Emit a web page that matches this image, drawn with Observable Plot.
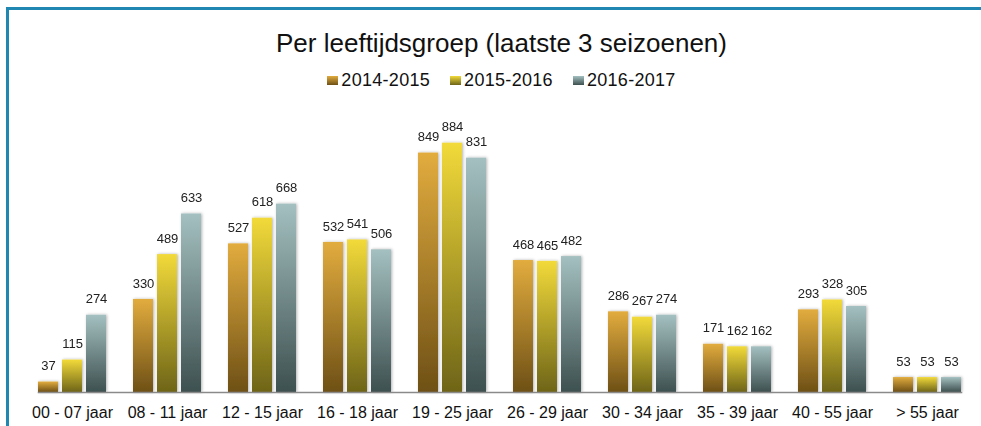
<!DOCTYPE html>
<html>
<head>
<meta charset="utf-8">
<script src="https://cdn.jsdelivr.net/npm/d3@7"></script>
<script src="https://cdn.jsdelivr.net/npm/@observablehq/plot@0.6"></script>
<style>
html, body { margin: 0; padding: 0; background: #fff; width: 981px; height: 426px; overflow: hidden;
  font-family: "Liberation Sans", Arial, Helvetica, sans-serif; }
#frame { position: absolute; left: 6px; top: 7px; width: 1100px; height: 600px;
  border-top: 3px solid #1f87b1; border-left: 3px solid #1f87b1; pointer-events: none; z-index: 5; }
#head { position: relative; height: 92px; }
#title { position: absolute; left: 22px; right: 0; top: 28px; line-height: 30px; font-size: 26px;
  text-align: center; color: #111; white-space: nowrap; }
#legend { position: absolute; left: 22px; right: 0; top: 69px; line-height: 22px; font-size: 18px;
  letter-spacing: 0.3px; display: flex; justify-content: center; color: #111; }
#legend .item { display: flex; align-items: center; margin: 0 10px; }
#legend .sw { width: 11px; height: 9px; margin-right: 3px; margin-top: 1px; }
#chart svg { display: block; }
</style>
</head>
<body>
<div id="frame"></div>
<div id="head">
  <div id="title"></div>
  <div id="legend"></div>
</div>
<div id="chart"></div>
<script>
const titleText = "Per leeftijdsgroep (laatste 3 seizoenen)";
const groups = ["00 - 07 jaar", "08 - 11 jaar", "12 - 15 jaar", "16 - 18 jaar", "19 - 25 jaar",
  "26 - 29 jaar", "30 - 34 jaar", "35 - 39 jaar", "40 - 55 jaar", "> 55 jaar"];
const seasons = ["2014-2015", "2015-2016", "2016-2017"];
const v2014 = [37, 330, 527, 532, 849, 468, 286, 171, 293, 53];
const v2015 = [115, 489, 618, 541, 884, 465, 267, 162, 328, 53];
const v2016 = [274, 633, 668, 506, 831, 482, 274, 162, 305, 53];
const gradTop = ["#e2ac3e", "#f2da3a", "#a4c0c0"];
const gradBottom = ["#6e5016", "#6e6418", "#3e5050"];

const series = [v2014, v2015, v2016];
const data = groups.flatMap((g, i) => seasons.map((s, j) => ({group: g, season: s, value: series[j][i]})));

document.getElementById("title").textContent = titleText;
const legend = d3.select("#legend");
seasons.forEach((s, j) => {
  const it = legend.append("div").attr("class", "item");
  it.append("div").attr("class", "sw")
    .style("background", `linear-gradient(${gradTop[j]}, ${gradBottom[j]})`);
  it.append("span").text(s);
});

const chart = Plot.plot({
  width: 981,
  height: 334,
  marginLeft: 24,
  marginRight: 5,
  marginTop: 18,
  marginBottom: 34,
  style: {fontFamily: '"Liberation Sans", Arial, Helvetica, sans-serif', fontSize: "16px", background: "transparent", color: "#111"},
  fx: {domain: groups, paddingInner: 0.28, paddingOuter: 0.14, label: null, axis: "bottom", tickSize: 0, tickPadding: 14},
  x: {domain: seasons, axis: null, paddingInner: 0.17, paddingOuter: 0},
  y: {domain: [0, 1000], axis: null},
  color: {type: "ordinal", domain: seasons, range: seasons.map((s, j) => `url(#grad${j})`)},
  marks: [
    Plot.barY(data, {fx: "group", x: "season", y: "value", fill: "season"}),
    Plot.text(data, {fx: "group", x: "season", y: "value", text: d => String(d.value), dy: -16, fontSize: 13, fill: "#222"}),
    Plot.frame({anchor: "bottom", facet: "super", stroke: "#8a8a8a", strokeWidth: 1.5})
  ]
});

const svg = d3.select(chart);
const defs = svg.insert("defs", ":first-child");
seasons.forEach((s, j) => {
  const lg = defs.append("linearGradient").attr("id", `grad${j}`)
    .attr("x1", 0).attr("y1", 0).attr("x2", 0).attr("y2", 1);
  lg.append("stop").attr("offset", 0).attr("stop-color", gradTop[j]);
  lg.append("stop").attr("offset", 1).attr("stop-color", gradBottom[j]);
});
const f = defs.append("filter").attr("id", "barShadow").attr("x", "-30%").attr("y", "-10%").attr("width", "160%").attr("height", "120%");
f.append("feDropShadow").attr("dx", 1).attr("dy", 0).attr("stdDeviation", 1.5)
  .attr("flood-color", "#000").attr("flood-opacity", 0.3);
svg.selectAll('g[aria-label="bar"]').attr("filter", "url(#barShadow)");

document.getElementById("chart").appendChild(chart);
</script>
</body>
</html>
